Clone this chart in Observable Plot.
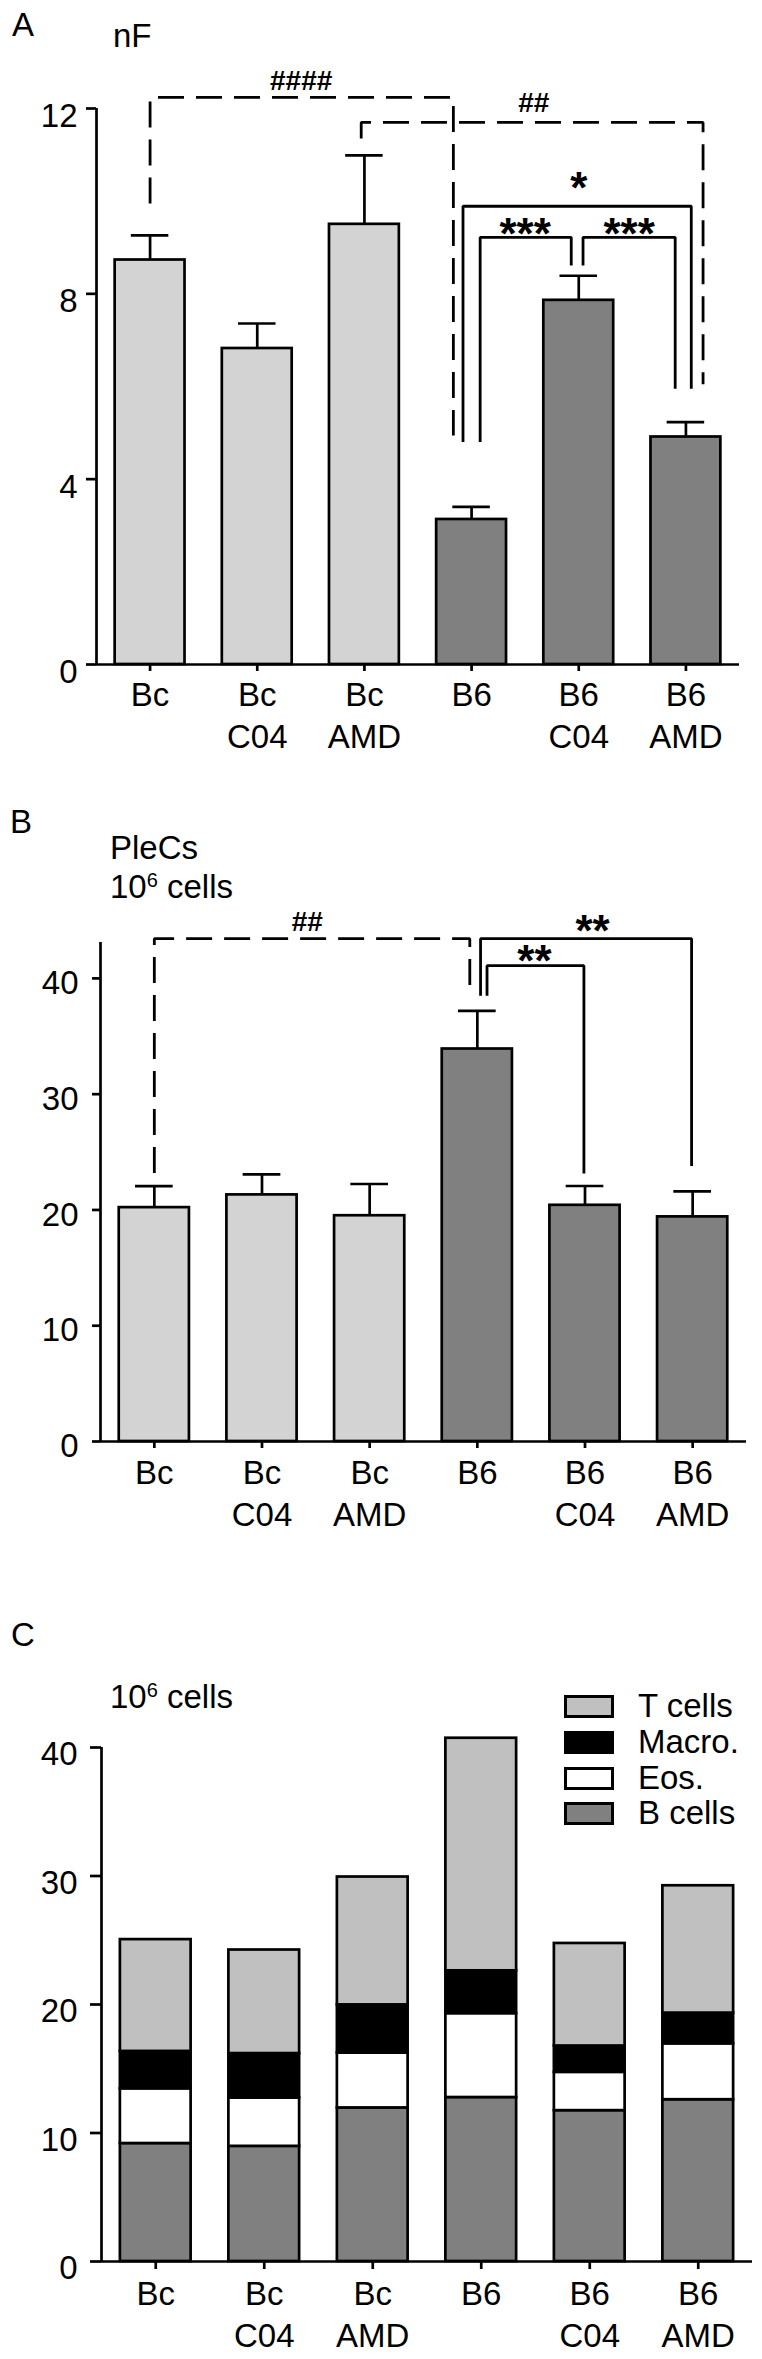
<!DOCTYPE html>
<html>
<head>
<meta charset="utf-8">
<script src="https://cdn.jsdelivr.net/npm/d3@7"></script>
<script src="https://cdn.jsdelivr.net/npm/@observablehq/plot@0.6"></script>
<style>
html,body{margin:0;padding:0;background:#fff;}
#page{position:relative;width:762px;height:2359px;overflow:hidden;font-family:"Liberation Sans",Arial,Helvetica,sans-serif;color:#000;background:#fff;}
.panel{position:absolute;left:0;width:762px;}
.panel svg{overflow:visible;}
.t{position:absolute;font-size:33px;line-height:33px;white-space:nowrap;}
.sup{font-size:20px;position:relative;top:-11px;}
.legrow{position:absolute;left:564px;height:36px;width:190px;}
.sw{position:absolute;left:0;top:7px;width:50px;height:23px;box-sizing:border-box;border:3px solid #000;}
.legrow span{position:absolute;left:74px;top:0;font-size:33px;line-height:36px;white-space:nowrap;}
</style>
</head>
<body>
<div id="page">
  <div class="panel" id="pA" style="top:0px"></div>
  <div class="panel" id="pB" style="top:780px"></div>
  <div class="panel" id="pC" style="top:1560px"></div>
  <div class="t" style="left:12px;top:8px">A</div>
  <div class="t" style="left:113px;top:19px">nF</div>
  <div class="t" style="left:10px;top:805px">B</div>
  <div class="t" style="left:110px;top:831px">PleCs</div>
  <div class="t" style="left:110px;top:870px">10<span class="sup">6</span> cells</div>
  <div class="t" style="left:11px;top:1618px">C</div>
  <div class="t" style="left:110px;top:1680px">10<span class="sup">6</span> cells</div>
  <div id="legend"></div>
</div>
<script>
// ---------- data ----------
const groups = ["Bc", "Bc C04", "Bc AMD", "B6", "B6 C04", "B6 AMD"];
const tickLabels = ["Bc", "Bc\nC04", "Bc\nAMD", "B6", "B6\nC04", "B6\nAMD"];
const strain = ["Bc", "Bc", "Bc", "B6", "B6", "B6"];
const strainDomain = ["Bc", "B6"];
const strainColors = ["#d3d3d3", "#808080"];

// Panel A: nF
const nF = [8.73, 6.82, 9.50, 3.13, 7.86, 4.91];
const nFSem = [0.53, 0.54, 1.49, 0.27, 0.53, 0.32];
const yTicksA = [0, 4, 8, 12];

// Panel B: PleCs (10^6 cells)
const pleCs = [20.2, 21.3, 19.5, 33.9, 20.4, 19.4];
const pleCsSem = [1.85, 1.77, 2.74, 3.3, 1.67, 2.21];
const yTicksB = [0, 10, 20, 30, 40];

// Panel C: stacked cell types (10^6 cells)
const cellTypes = ["T cells", "Macro.", "Eos.", "B cells"];
const cellColors = ["#c0c0c0", "#000000", "#ffffff", "#808080"];
const tCells = [8.70, 8.06, 9.95, 18.10, 7.98, 9.91];
const macro = [2.91, 3.46, 3.75, 3.33, 2.05, 2.39];
const eos = [4.26, 3.76, 4.27, 6.53, 2.98, 4.35];
const bCells = [9.18, 8.96, 11.95, 12.76, 11.74, 12.59];
const yTicksC = [0, 10, 20, 30, 40];

// Significance brackets, panel A (x in group index units, y in data units)
const brA_label = ["####", "##", "*", "***", "***"];
const brA_x1 = [0, 1.97, 2.92, 3.08, 4.04];
const brA_x2 = [2.83, 5.16, 5.05, 3.93, 4.90];
const brA_top = [12.24, 11.70, 9.89, 9.22, 9.22];
const brA_y1 = [9.95, 11.35, 4.80, 4.80, 8.61];
const brA_y2 = [4.94, 6.05, 5.95, 8.61, 5.95];
const brA_dashed = [true, true, false, false, false];
const brA_lx = [1.41, 3.58, 4.0, 3.50, 4.47];
const brA_ly = [12.6, 12.11, 10.49, 9.48, 9.48];

// Significance brackets, panel B
const brB_label = ["##", "**", "**"];
const brB_x1 = [0, 3.03, 3.09];
const brB_x2 = [2.93, 4.99, 3.99];
const brB_top = [43.43, 43.43, 41.1];
const brB_y1 = [23.2, 38.5, 38.5];
const brB_y2 = [38.5, 23.8, 23.15];
const brB_dashed = [true, false, false];
const brB_lx = [1.42, 4.07, 3.53];
const brB_ly = [44.84, 44.84, 42.29];

// ---------- drawing ----------
const FONT = '"Liberation Sans", Arial, Helvetica, sans-serif';
const SW = 2.7;
const HALF = 0.326;
const CAP = 0.175;
const idx = d3.range(groups.length);

function bracketMarks(b) {
  const pts = [];
  b.x1.forEach((_, k) => {
    pts.push({k, d: b.dashed[k], x: b.x1[k], y: b.y1[k]},
             {k, d: b.dashed[k], x: b.x1[k], y: b.top[k]},
             {k, d: b.dashed[k], x: b.x2[k], y: b.top[k]},
             {k, d: b.dashed[k], x: b.x2[k], y: b.y2[k]});
  });
  const lab = d3.range(b.label.length);
  const hashIdx = lab.filter(k => b.label[k].startsWith("#"));
  const starIdx = lab.filter(k => b.label[k].startsWith("*"));
  const lineOpts = {x: "x", y: "y", z: "k", strokeWidth: 2.8, strokeLinecap: "butt", strokeLinejoin: "miter"};
  return [
    Plot.line(pts.filter(p => p.d), {...lineOpts, strokeDasharray: "26,12"}),
    Plot.line(pts.filter(p => !p.d), lineOpts),
    Plot.text(hashIdx, {x: k => b.lx[k], y: k => b.ly[k], text: k => b.label[k], fontSize: 28, fontWeight: "bold"}),
    Plot.text(starIdx, {x: k => b.lx[k], y: k => b.ly[k], text: k => b.label[k], fontSize: 44, fontWeight: "bold", dy: 10})
  ];
}

function axes(cfg) {
  return [
    Plot.ruleX([-0.5], {y1: 0, y2: cfg.yDomain[1], strokeWidth: SW}),
    Plot.ruleY([0], {strokeWidth: SW}),
    Plot.axisY({ticks: cfg.yTicks, tickSize: cfg.yTick, strokeWidth: SW, tickFormat: () => "", label: null}),
    Plot.axisY({ticks: cfg.yTicks, tickSize: 0, tickPadding: cfg.yPad, dy: cfg.yDy, fontSize: 33, label: null}),
    Plot.axisX({ticks: idx, tickFormat: i => tickLabels[i], tickSize: cfg.xTick, tickPadding: cfg.xPad,
                fontSize: 33, lineHeight: 1.27, strokeWidth: SW, label: null})
  ];
}

function barPanel(cfg) {
  const upper = idx.map(i => cfg.values[i] + cfg.sem[i]);
  return Plot.plot({
    width: 762, height: cfg.height,
    marginLeft: cfg.ml, marginRight: cfg.mr, marginTop: cfg.mt, marginBottom: cfg.mb,
    x: {type: "linear", domain: [-0.5, 5.5]},
    y: {domain: cfg.yDomain},
    color: {domain: strainDomain, range: strainColors},
    style: {fontFamily: FONT, background: "transparent", color: "#000"},
    marks: [
      Plot.ruleX(idx, {x: i => i, y1: i => cfg.values[i], y2: i => upper[i], strokeWidth: SW}),
      Plot.ruleY(idx, {y: i => upper[i], x1: i => i - CAP, x2: i => i + CAP, strokeWidth: SW}),
      Plot.rectY(idx, {x1: i => i - HALF, x2: i => i + HALF, y1: 0, y2: i => cfg.values[i],
                       fill: i => strain[i], stroke: "#000", strokeWidth: SW}),
      ...axes(cfg),
      ...bracketMarks(cfg.br)
    ]
  });
}

const plotA = barPanel({
  values: nF, sem: nFSem, yDomain: [0, 12], yTicks: yTicksA,
  height: 780, ml: 96, mr: 23, mt: 108, mb: 116,
  yTick: 10, yPad: 19, yDy: 8, xTick: 7, xPad: 5,
  br: {label: brA_label, x1: brA_x1, x2: brA_x2, top: brA_top, y1: brA_y1, y2: brA_y2, dashed: brA_dashed, lx: brA_lx, ly: brA_ly}
});
document.getElementById("pA").appendChild(plotA);

const plotB = barPanel({
  values: pleCs, sem: pleCsSem, yDomain: [0, 43.1], yTicks: yTicksB,
  height: 780, ml: 100, mr: 16, mt: 162, mb: 119,
  yTick: 8, yPad: 22, yDy: 5, xTick: 7, xPad: 6,
  br: {label: brB_label, x1: brB_x1, x2: brB_x2, top: brB_top, y1: brB_y1, y2: brB_y2, dashed: brB_dashed, lx: brB_lx, ly: brB_ly}
});
document.getElementById("pB").appendChild(plotB);

// Panel C stacked
const cellValues = {"T cells": tCells, "Macro.": macro, "Eos.": eos, "B cells": bCells};
const stackOrder = cellTypes.slice().reverse();
const stackRows = [];
idx.forEach(i => stackOrder.forEach(t => stackRows.push({i, type: t, v: cellValues[t][i]})));

const cfgC = {yDomain: [0, 40], yTicks: yTicksC, yTick: 11, yPad: 24, yDy: 7, xTick: 8, xPad: 6};
const plotC = Plot.plot({
  width: 762, height: 799,
  marginLeft: 101, marginRight: 10, marginTop: 187, marginBottom: 98,
  x: {type: "linear", domain: [-0.5, 5.5]},
  y: {domain: cfgC.yDomain},
  color: {domain: cellTypes, range: cellColors},
  style: {fontFamily: FONT, background: "transparent", color: "#000"},
  marks: [
    Plot.rectY(stackRows, Plot.stackY({x: "i", x1: d => d.i - HALF, x2: d => d.i + HALF, y: "v",
      fill: "type", stroke: "#000", strokeWidth: SW})),
    ...axes(cfgC)
  ]
});
document.getElementById("pC").appendChild(plotC);

// Legend for panel C
const legendTops = [1688, 1724, 1760, 1795];
const legend = document.getElementById("legend");
cellTypes.forEach((t, k) => {
  const row = document.createElement("div");
  row.className = "legrow";
  row.style.top = legendTops[k] + "px";
  const sw = document.createElement("div");
  sw.className = "sw";
  sw.style.background = cellColors[k];
  const lab = document.createElement("span");
  lab.textContent = t;
  row.appendChild(sw);
  row.appendChild(lab);
  legend.appendChild(row);
});
</script>
</body>
</html>
